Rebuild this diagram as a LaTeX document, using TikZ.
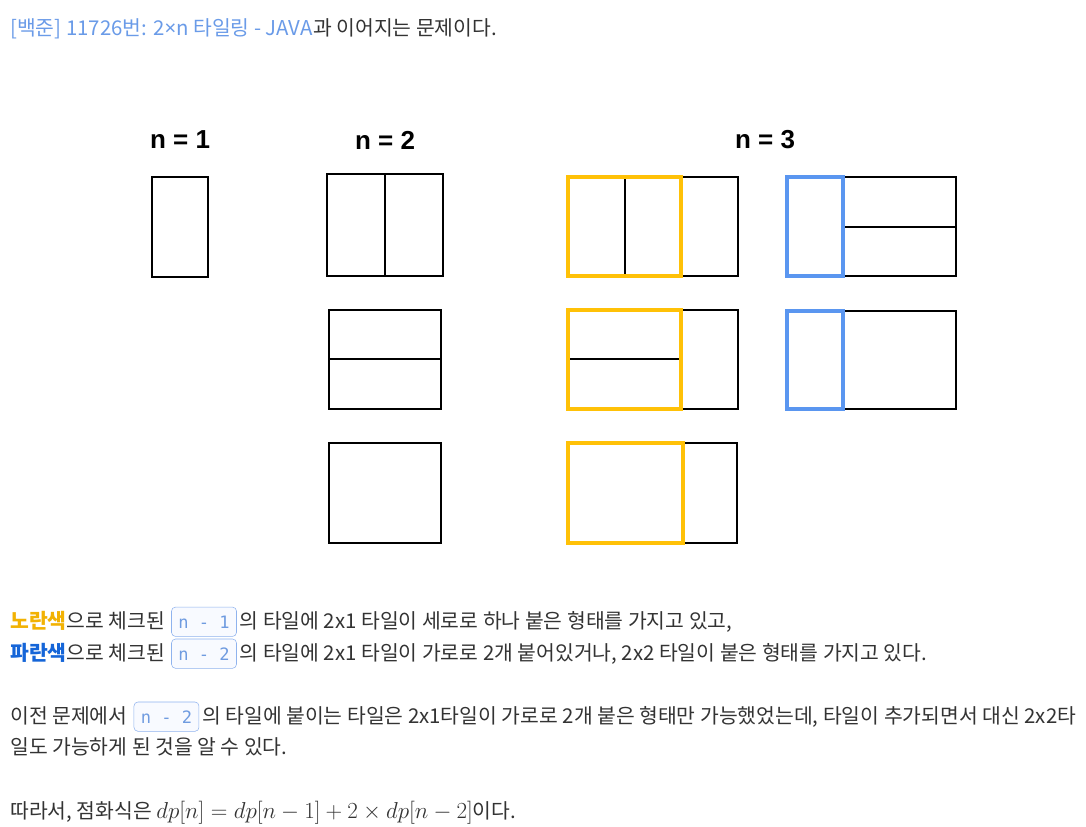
\documentclass[tikz,border=0pt]{standalone}
\usepackage{fontspec}
\setmainfont{Noto Sans CJK KR}
\newfontfamily\labelfont{Liberation Sans}
\newfontfamily\codefont{DejaVu Sans Mono}
\newfontfamily\latinfont{Noto Sans}
\usetikzlibrary{positioning}

\definecolor{linkblue}{HTML}{6A9BE8}
\definecolor{bodygray}{HTML}{333333}
\definecolor{tileyellow}{HTML}{FFC107}
\definecolor{tileblue}{HTML}{5A96F0}
\definecolor{yellowword}{HTML}{F2B203}
\definecolor{blueword}{HTML}{1565D8}
\definecolor{codeblue}{HTML}{6F9BE0}
\definecolor{codeborder}{HTML}{8FB3EE}
\definecolor{codefill}{HTML}{F8FAFF}

\begin{document}
\begin{tikzpicture}[
  x=0.75pt, y=-0.75pt,
  tile/.style = {draw=black, line width=1.5pt},
  yellowtile/.style = {draw=tileyellow, line width=3.5pt},
  bluetile/.style = {draw=tileblue, line width=3.5pt},
  caption/.style = {font=\labelfont\bfseries\fontsize{19.5}{22}\selectfont, text=black},
  body/.style = {inner sep=0pt, anchor=base west, text=bodygray, font=\fontsize{15.3}{18}\selectfont},
  codebox/.style = {draw=codeborder, fill=codefill, rounded corners=3pt, text=codeblue,
    font=\codefont\fontsize{12.8}{14}\selectfont, inner xsep=5pt, minimum height=22pt,
    minimum width=48.75pt, anchor=base west}
]
  \fill[white] (0,0) rectangle (1086,827);
  \useasboundingbox (0,0) rectangle (1086,827);

  % Title line
  \node[body, text=linkblue] (title) at (10,36) {[백준] 11726번: 2{\latinfont ×}n 타일링 - JAVA};
  \node[body] (titlerest) at (title.base east) {과 이어지는 문제이다.};

  % Captions
  \node[caption] (cap1) at (180,140) {n = 1};
  \node[caption] (cap2) at (385,140) {n = 2};
  \node[caption] (cap3) at (765,140) {n = 3};

  % n = 1
  \draw[tile] (152,177) rectangle (208,277);

  % n = 2
  \draw[tile] (327,174) rectangle (443,276);
  \draw[tile] (385,174) -- (385,276);
  \draw[tile] (329,310) rectangle (441,409);
  \draw[tile] (329,359) -- (441,359);
  \draw[tile] (329,443) rectangle (441,543);

  % n = 3, yellow column
  \draw[tile] (568,177) rectangle (738,276);
  \draw[tile] (625,177) -- (625,276);
  \draw[yellowtile] (568,177) rectangle (681,276);
  \draw[tile] (568,310) rectangle (738,409);
  \draw[tile] (568,359) -- (682,359);
  \draw[yellowtile] (568,310) rectangle (681,409);
  \draw[tile] (568,443) rectangle (737,543);
  \draw[yellowtile] (568,443) rectangle (683,543);

  % n = 3, blue column
  \draw[tile] (787,177) rectangle (956,276);
  \draw[tile] (843,227) -- (956,227);
  \draw[bluetile] (787,177) rectangle (843,276);
  \draw[tile] (787,311) rectangle (956,409);
  \draw[bluetile] (787,311) rectangle (843,409);

  % Explanation
  \node[body] (line1a) at (10,628) {\textcolor{yellowword}{\bfseries 노란색}으로 체크된};
  \node[codebox] (box1) at ([xshift=4.5pt]line1a.base east) {n - 1};
  \node[body] (line1b) at ([xshift=2pt]box1.base east) {의 타일에 2x1 타일이 세로로 하나 붙은 형태를 가지고 있고,};

  \node[body] (line2a) at (10,660) {\textcolor{blueword}{\bfseries 파란색}으로 체크된};
  \node[codebox] (box2) at ([xshift=4.5pt]line2a.base east) {n - 2};
  \node[body] (line2b) at ([xshift=2pt]box2.base east) {의 타일에 2x1 타일이 가로로 2개 붙어있거나, 2x2 타일이 붙은 형태를 가지고 있다.};

  \node[body] (line3a) at (10,723) {이전 문제에서};
  \node[codebox] (box3) at ([xshift=4.5pt]line3a.base east) {n - 2};
  \node[body] (line3b) at ([xshift=2pt]box3.base east) {의 타일에 붙이는 타일은 2x1타일이 가로로 2개 붙은 형태만 가능했었는데, 타일이 추가되면서 대신 2x2타};
  \node[body] (line4) at (10,754) {일도 가능하게 된 것을 알 수 있다.};

  \node[body] (line5) at (10,818) {따라서, 점화식은 {\fontsize{17}{18}\selectfont$dp[n]=dp[n-1]+2\times dp[n-2]$}이다.};
\end{tikzpicture}
\end{document}
